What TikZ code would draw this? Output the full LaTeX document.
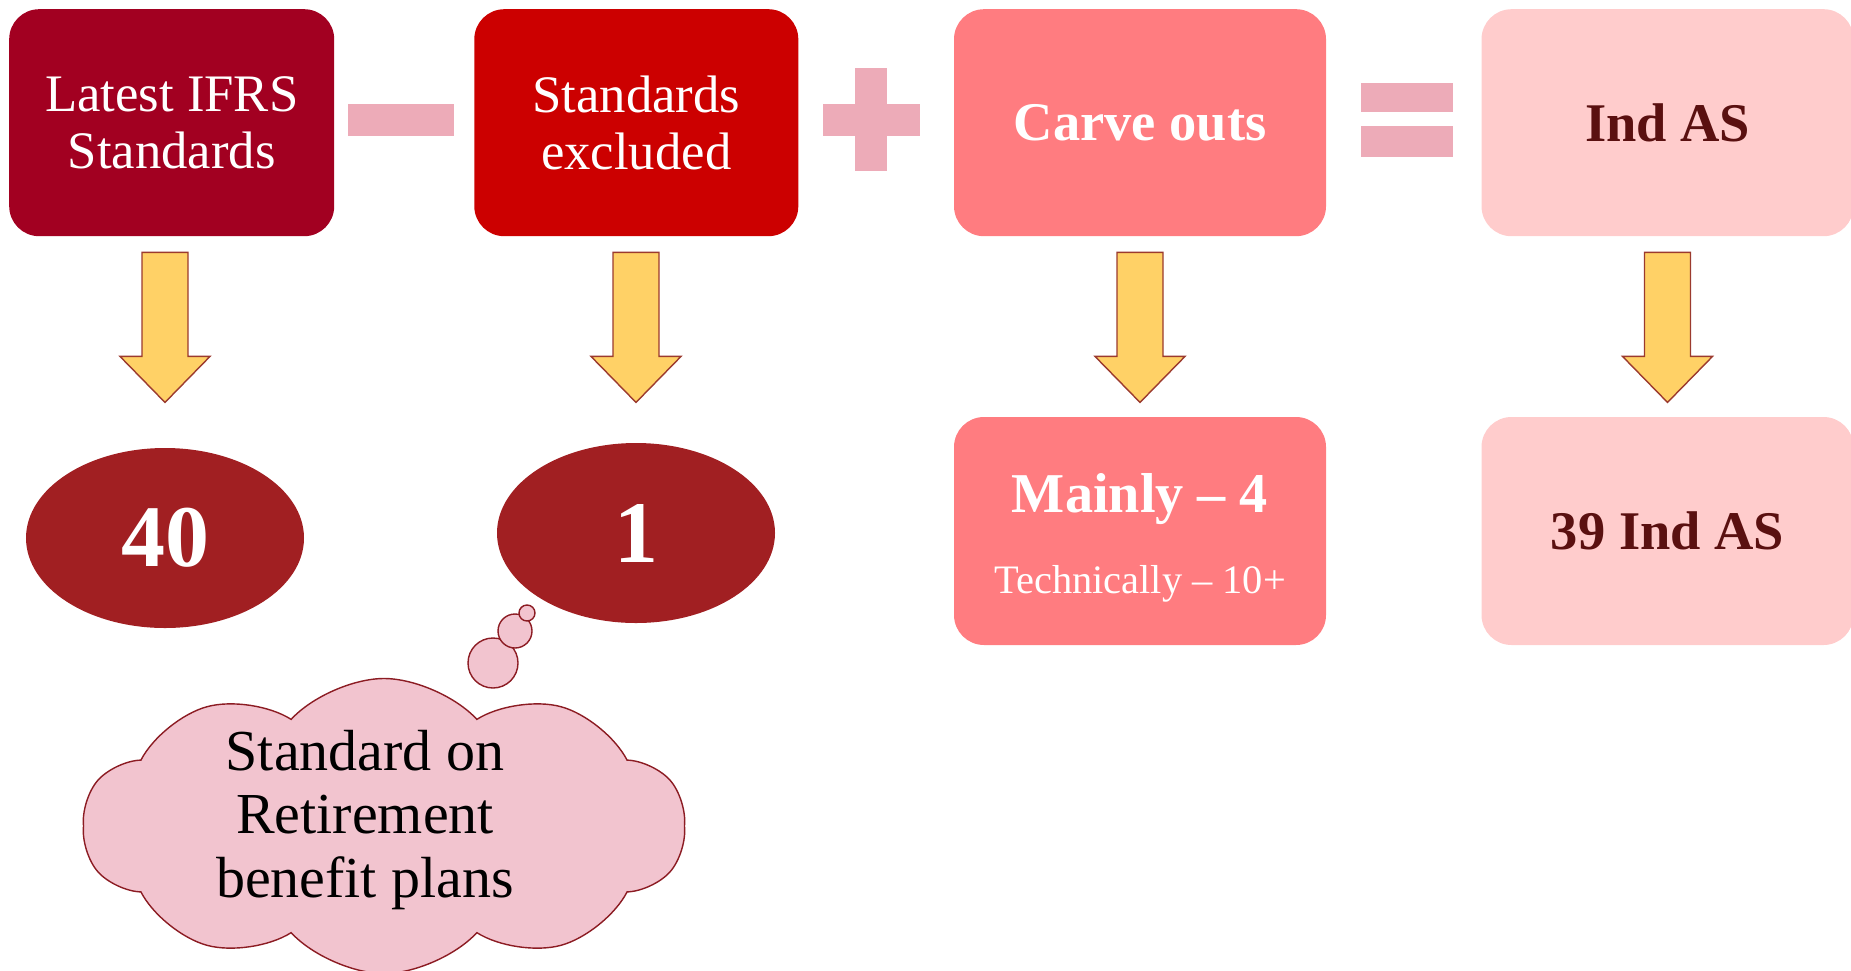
\documentclass[tikz,border=0pt]{standalone}
\usepackage{fontspec}
\setmainfont{Liberation Serif}
\usepackage{tikz}
\usetikzlibrary{shapes.geometric,shapes.symbols,calc}
\definecolor{ifrsred}{HTML}{A20021}
\definecolor{exclred}{HTML}{CC0000}
\definecolor{carvepink}{HTML}{FF7C80}
\definecolor{indpink}{HTML}{FFCCCC}
\definecolor{oppink}{HTML}{EDABB8}
\definecolor{ovalred}{HTML}{A11F22}
\definecolor{cloudpink}{HTML}{F2C4CF}
\definecolor{cloudline}{HTML}{8C1C23}
\definecolor{indtext}{HTML}{5A1010}
\definecolor{arrowfill}{HTML}{FFD166}
\definecolor{arrowline}{HTML}{9B3A2E}

\begin{document}
\begin{tikzpicture}[
    box/.style={rounded corners=0.3cm, minimum height=2.27cm, inner sep=0pt, align=center},
    oval/.style={ellipse, fill=ovalred, minimum width=2.78cm, minimum height=1.80cm, inner sep=0pt,
      text=white, font=\fontsize{25}{28}\selectfont\bfseries},
    opbar/.style={fill=oppink},
    blockarrow/.style={fill=arrowfill, draw=arrowline, line width=0.4pt},
    bubble/.style={circle, draw=cloudline, fill=cloudpink, line width=0.4pt, inner sep=0pt}]
  \useasboundingbox (0,0) rectangle (18.51,-9.70);

  \node[box, fill=ifrsred, minimum width=3.25cm, text=white,
    font=\fontsize{15}{16.3}\selectfont] (ifrs) at (1.717,-1.227) {Latest IFRS\\Standards};
  \node[box, fill=exclred, minimum width=3.24cm, text=white,
    font=\fontsize{15}{16.3}\selectfont] (excl) at (6.363,-1.227) {Standards\\excluded};
  \node[box, fill=carvepink, minimum width=3.72cm, text=white,
    font=\fontsize{15.5}{17}\selectfont\bfseries] (carve) at (11.40,-1.227) {Carve outs};
  \node[box, fill=indpink, minimum width=3.72cm, text=indtext,
    font=\fontsize{15.5}{17}\selectfont\bfseries] (indas) at (16.675,-1.227) {Ind AS};

  \fill[opbar] (3.48,-1.04) rectangle (4.54,-1.36);
  \fill[opbar] (8.23,-1.04) rectangle (9.20,-1.36);
  \fill[opbar] (8.55,-0.68) rectangle (8.87,-1.71);
  \fill[opbar] (13.61,-0.83) rectangle (14.53,-1.12);
  \fill[opbar] (13.61,-1.26) rectangle (14.53,-1.57);

  \node[oval] (forty) at (1.65,-5.38) {40};
  \node[oval] (one) at (6.36,-5.33) {1};
  \node[box, fill=carvepink, minimum width=3.72cm, minimum height=2.28cm, text=white,
    font=\fontsize{11.5}{23}\selectfont] (mainly) at (11.40,-5.31)
    {{\fontsize{16}{23}\selectfont\bfseries\rule{0pt}{15pt}Mainly -- 4}\\Technically -- 10+};
  \node[box, fill=indpink, minimum width=3.72cm, minimum height=2.28cm, text=indtext,
    font=\fontsize{15.5}{17}\selectfont\bfseries] (thirtynine) at (16.675,-5.31) {39 Ind AS};

  \foreach \a/\b in {ifrs/forty, excl/one, carve/mainly, indas/thirtynine} {
    \draw[blockarrow] ($(\b.north |- \a.south)+(-0.23,-0.155)$) -- ++(0.46,0) -- ++(0,-1.04)
      -- ++(0.22,0) -- ++(-0.45,-0.46) -- ++(-0.45,0.46) -- ++(0.22,0) -- cycle;
  }

  \node[cloud, cloud puffs=10, cloud puff arc=95, cloud ignores aspect, draw=cloudline,
    fill=cloudpink, line width=0.4pt, minimum width=6.02cm, minimum height=2.95cm] (cloud) at (3.84,-8.26) {};
  \node[bubble, minimum size=0.50cm] (bubA) at (4.93,-6.63) {};
  \node[bubble, minimum size=0.34cm] (bubB) at (5.15,-6.31) {};
  \node[bubble, minimum size=0.16cm] (bubC) at (5.27,-6.13) {};
  \node[align=center, font=\fontsize{16.5}{18.1}\selectfont] (plans) at (3.65,-8.20)
    {Standard on\\Retirement\\benefit plans};
\end{tikzpicture}
\end{document}
